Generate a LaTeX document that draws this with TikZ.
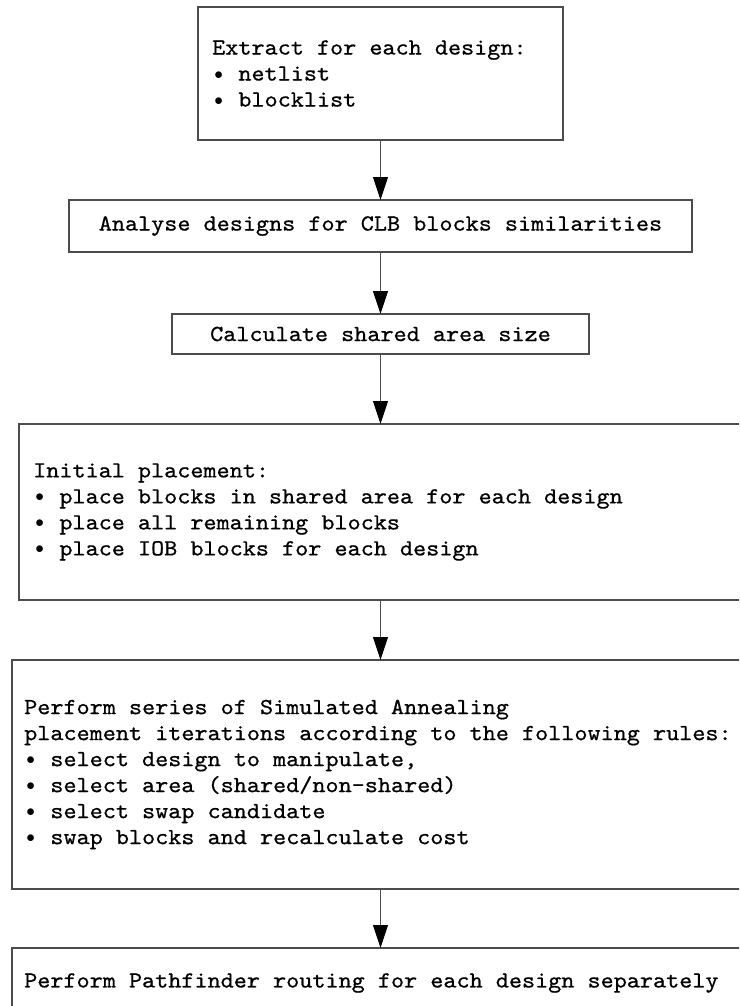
\documentclass[tikz,border=0pt]{standalone}
\usepackage{fontspec}
\newfontfamily\boxfont{lmmono10-regular.otf}[FakeStretch=1.085,FakeBold=0.7]
\usetikzlibrary{arrows.meta}

% a bullet that occupies one character cell of the monospaced font
\newcommand\bul{\makebox[0.5696em]{\raisebox{1.5pt}{\fontsize{18}{18}\selectfont$\bullet$}}}

\tikzset{
  stepbox/.style={draw=black!70, line width=1.1pt, rectangle, outer sep=0pt,
    inner sep=0pt},
  steptext/.style={anchor=west, inner sep=0pt, align=left,
    font=\boxfont\fontsize{23}{26}\selectfont},
  flow/.style={draw=black!70, line width=1.1pt,
    -{Triangle[length=23pt,width=15pt,color=black]}},
}

\begin{document}
\begin{tikzpicture}[x=1pt, y=-1pt]
  \useasboundingbox (0,0) rectangle (739,1006);
  \clip (0,0) rectangle (739,1006);

  % process steps, top to bottom
  \node[stepbox, minimum width=365pt, minimum height=133pt] (extract) at (380.5,73.5) {};
  \node[steptext] (extractT) at ([xshift=14pt]extract.west)
    {Extract for each design:\\\bul{} netlist\\\bul{} blocklist};

  \node[stepbox, minimum width=623pt, minimum height=52pt] (analyse) at (380.5,226) {};
  \node[steptext, anchor=center] (analyseT) at (analyse.center)
    {Analyse designs for CLB blocks similarities};

  \node[stepbox, minimum width=417pt, minimum height=40pt] (shared) at (380.5,334) {};
  \node[steptext, anchor=center] (sharedT) at (shared.center)
    {Calculate shared area size};

  \node[stepbox, minimum width=723pt, minimum height=176pt] (initial) at (380.5,512) {};
  \node[steptext] (initialT) at ([xshift=14pt]initial.west)
    {Initial placement:\\\bul{} place blocks in shared area for each design\\\bul{} place all remaining blocks\\\bul{} place IOB blocks for each design};

  \node[stepbox, minimum width=737pt, minimum height=229pt] (anneal) at (380.5,774.5) {};
  \node[steptext] (annealT) at ([xshift=12pt]anneal.west)
    {Perform series of Simulated Annealing\\placement iterations according to the following rules:\\\bul{} select design to manipulate,\\\bul{} select area (shared/non-shared)\\\bul{} select swap candidate\\\bul{} swap blocks and recalculate cost};

  \node[stepbox, minimum width=737pt, minimum height=70pt] (route) at (380.5,983) {};
  \node[steptext] (routeT) at ([xshift=12pt]route.west)
    {Perform Pathfinder routing for each design separately};

  % connectors
  \draw[flow] (extract.south) -- (analyse.north);
  \draw[flow] (analyse.south) -- (shared.north);
  \draw[flow] (shared.south) -- (initial.north);
  \draw[flow] (initial.south) -- (anneal.north);
  \draw[flow] (anneal.south) -- (route.north);
\end{tikzpicture}
\end{document}
